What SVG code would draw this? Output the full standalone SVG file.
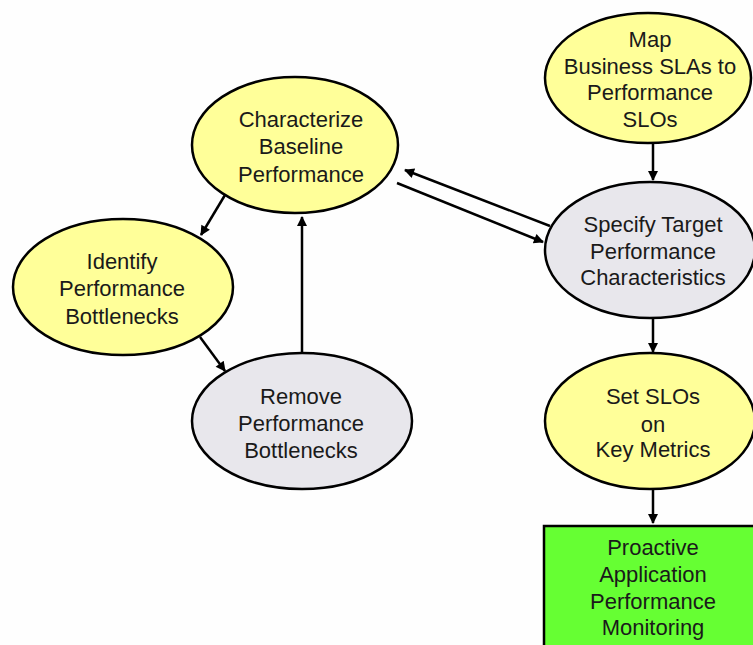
<svg xmlns="http://www.w3.org/2000/svg" width="753" height="645" viewBox="0 0 753 645">
<style>
.n{stroke:#000;stroke-width:2.5}
.y{fill:#ffff99}
.g{fill:#e8e7ec}
.b{fill:#66ff33}
text{font-family:"Liberation Sans",Arial,sans-serif;font-size:22px;fill:#1a1a1a;text-anchor:middle}
.c{stroke:#000;stroke-width:2.5;fill:none;marker-end:url(#ah)}
</style>
<defs>
<marker id="ah" viewBox="0 0 10 10" refX="9" refY="5" markerWidth="12" markerHeight="10" markerUnits="userSpaceOnUse" orient="auto">
<path d="M0,0 L10,5 L0,10 z" fill="#000"/>
</marker>
</defs>
<rect width="753" height="645" fill="#fefefe"/>
<g id="connectors">
<line class="c" x1="225" y1="195" x2="201" y2="235"/>
<line class="c" x1="200" y1="337" x2="225" y2="371"/>
<line class="c" x1="302" y1="353" x2="302" y2="217"/>
<line class="c" x1="550" y1="226" x2="405" y2="170"/>
<line class="c" x1="397" y1="183" x2="543" y2="242"/>
<line class="c" x1="653" y1="143" x2="653" y2="180"/>
<line class="c" x1="653" y1="317" x2="653" y2="352"/>
<line class="c" x1="653" y1="490" x2="653" y2="523"/>
</g>
<g id="map">
<ellipse class="n y" cx="648" cy="78" rx="103" ry="65"/>
<text x="650" y="47">Map</text>
<text x="650" y="74">Business SLAs to</text>
<text x="650" y="100">Performance</text>
<text x="650" y="127">SLOs</text>
</g>
<g id="characterize">
<ellipse class="n y" cx="295" cy="145" rx="103" ry="68"/>
<text x="301" y="127">Characterize</text>
<text x="301" y="154">Baseline</text>
<text x="301" y="182">Performance</text>
</g>
<g id="identify">
<ellipse class="n y" cx="123" cy="287" rx="110" ry="68"/>
<text x="122" y="269">Identify</text>
<text x="122" y="296">Performance</text>
<text x="122" y="324">Bottlenecks</text>
</g>
<g id="remove">
<ellipse class="n g" cx="302" cy="421" rx="110" ry="68"/>
<text x="301" y="404">Remove</text>
<text x="301" y="431">Performance</text>
<text x="301" y="458">Bottlenecks</text>
</g>
<g id="specify">
<ellipse class="n g" cx="650" cy="250" rx="105" ry="68"/>
<text x="653" y="232">Specify Target</text>
<text x="653" y="259">Performance</text>
<text x="653" y="285">Characteristics</text>
</g>
<g id="setslos">
<ellipse class="n y" cx="650" cy="421" rx="105" ry="68"/>
<text x="653" y="404">Set SLOs</text>
<text x="653" y="432">on</text>
<text x="653" y="457">Key Metrics</text>
</g>
<g id="monitoring">
<rect class="n b" x="544" y="526" width="220" height="130"/>
<text x="653" y="555">Proactive</text>
<text x="653" y="582">Application</text>
<text x="653" y="609">Performance</text>
<text x="653" y="635">Monitoring</text>
</g>
</svg>
